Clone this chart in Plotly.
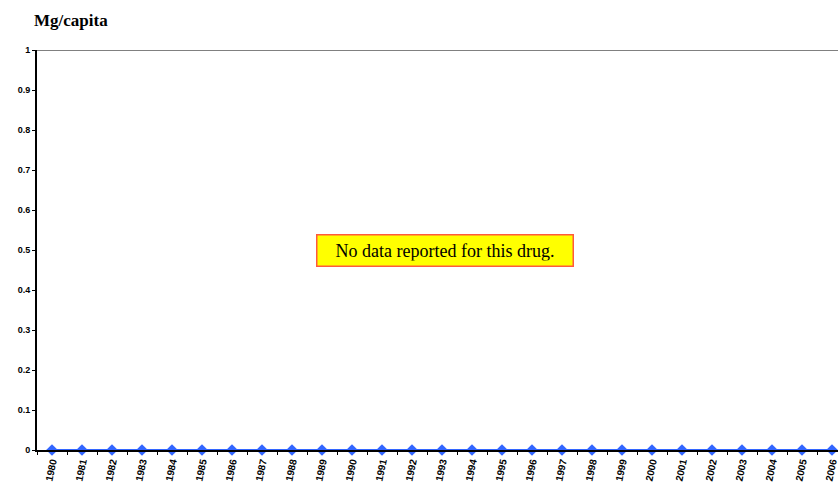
import plotly.graph_objects as go

years = [str(y) for y in range(1980, 2007)]
values = [0] * len(years)
y_ticks = [0, 0.1, 0.2, 0.3, 0.4, 0.5, 0.6, 0.7, 0.8, 0.9, 1]
y_tick_text = ["0", "0.1", "0.2", "0.3", "0.4", "0.5", "0.6", "0.7", "0.8", "0.9", "1"]

fig = go.Figure()
fig.add_trace(go.Scatter(
    x=years, y=values, mode="lines+markers",
    line=dict(color="#3366FF", width=2),
    marker=dict(symbol="diamond", size=9, color="#3366FF"),
    cliponaxis=False, showlegend=False,
))

fig.update_layout(
    width=838, height=482,
    margin=dict(l=37, r=0, t=50, b=32),
    paper_bgcolor="white", plot_bgcolor="white",
    xaxis=dict(
        type="category", range=[-0.5, 26.2],
        showline=True, linecolor="black", linewidth=2,
        ticks="outside", tickson="boundaries", ticklen=3, tickcolor="black",
        tickangle=-78, showgrid=False, zeroline=False,
        tickfont=dict(family="Liberation Sans, Arial", size=10, color="black", weight="bold"),
    ),
    yaxis=dict(
        range=[0, 1], tickvals=y_ticks, ticktext=y_tick_text,
        showline=True, linecolor="black", linewidth=2,
        ticks="outside", ticklen=3, tickcolor="black",
        showgrid=False, zeroline=False,
        tickfont=dict(family="Liberation Sans, Arial", size=9, color="black", weight="bold"),
    ),
    shapes=[dict(type="line", xref="paper", yref="y", x0=0, x1=1, y0=1, y1=1,
                 line=dict(color="#808080", width=2))],
    annotations=[
        dict(text="<b>Mg/capita</b>", xref="paper", yref="paper", x=-0.006, y=1.0,
             xanchor="left", yanchor="bottom", yshift=18, showarrow=False,
             font=dict(family="Liberation Serif, Times New Roman", size=17, color="black")),
        dict(text="No data reported for this drug.", xref="paper", yref="paper",
             x=0.509, y=0.5, xanchor="center", yanchor="middle", showarrow=False,
             font=dict(family="Liberation Serif, Times New Roman", size=18, color="black"),
             bgcolor="#FFFF00", bordercolor="#FF5A3C", borderwidth=1.5,
             borderpad=5, width=245, height=20),
    ],
)

fig.write_html(
    "out.html",
    config={"displayModeBar": False},
    post_script="document.body.style.margin='0';document.body.style.overflow='hidden';",
)
